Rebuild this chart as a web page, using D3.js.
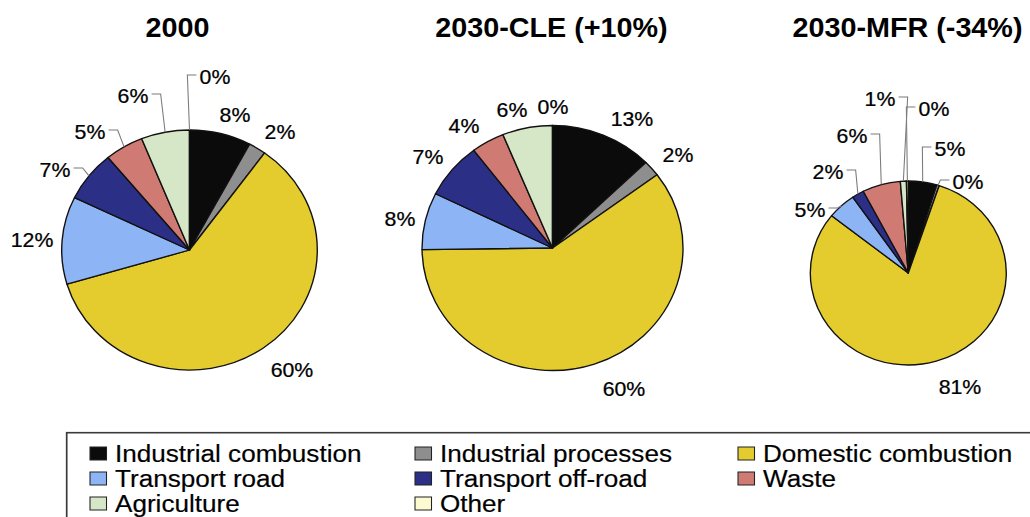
<!DOCTYPE html>
<html>
<head>
<meta charset="utf-8">
<script src="https://cdn.jsdelivr.net/npm/d3@7"></script>
<style>
  html, body { margin: 0; padding: 0; background: #ffffff; }
  svg { display: block; }
  text { font-family: "Liberation Sans", Arial, Helvetica, sans-serif; fill: #000; }
</style>
</head>
<body>
<svg id="chart" width="1030" height="517"></svg>
<script>
// ---------------- data ----------------
const categories = [
  "Industrial combustion", "Industrial processes", "Domestic combustion",
  "Transport road", "Transport off-road", "Waste", "Agriculture", "Other"
];
const titles = ["2000", "2030-CLE (+10%)", "2030-MFR (-34%)"];
const values2000 = [7.8, 2.2, 60.4, 11.8, 6.8, 4.9, 6.1, 0.0];
const valuesCLE  = [12.7, 2.1, 60.0, 7.5, 7.4, 4.1, 6.2, 0.0];
const valuesMFR  = [4.7, 0.4, 80.6, 4.7, 2.0, 6.3, 1.0, 0.3];
const seriesValues = [values2000, valuesCLE, valuesMFR];

// ---------------- style / layout ----------------
const colors = ["#0b0b0b", "#8e8e8e", "#e4cb2e", "#8db4f4", "#2c2f86", "#cf7a72", "#d6e7c7", "#fbfad0"];
const S = 1.065; // horizontal stretch of the whole figure
// layout in screen pixels (converted to unstretched space below)
const pieLayout = [
  { cx: 189.5, cy: 250, r: 120, titleX: 177.5 },
  { cx: 552.5, cy: 248, r: 122.5, titleX: 551.5 },
  { cx: 908.3, cy: 273, r: 92, titleX: 907.5 }
];
// label centres relative to pie centre (screen px) and whether a leader line is drawn
const labelLayout = [
  [[45.5,-135,0],[90.5,-118,0],[102.5,120,0],[-157.5,-10,0],[-134.5,-80,1],[-99.5,-118,1],[-56.5,-154,1],[25.5,-173,1]],
  [[79.5,-129,0],[125.5,-93,0],[71.5,141,0],[-152.5,-29,0],[-124.5,-91,0],[-88.5,-122,0],[-40.5,-138,0],[0.5,-141,0]],
  [[41.7,-124,1],[59.7,-91,1],[51.7,114,0],[-98.3,-63,1],[-80.3,-101,1],[-56.3,-137,1],[-28.3,-174,1],[25.7,-164,1]]
];

const svg = d3.select("#chart");
const root = svg.append("g").attr("transform", `scale(${S},1)`);

const pie = d3.pie().sort(null).value(d => d).startAngle(0).endAngle(2 * Math.PI);
const fmt = v => Math.round(v) + "%";

seriesValues.forEach((vals, i) => {
  const L = pieLayout[i];
  const cx = L.cx / S, cy = L.cy;
  const arcs = pie(vals);
  const arc = d3.arc().innerRadius(0).outerRadius(L.r);

  root.append("text")
    .attr("x", L.titleX / S).attr("y", 37)
    .attr("text-anchor", "middle")
    .style("font-size", "27px").style("font-weight", "bold")
    .text(titles[i]);

  const g = root.append("g").attr("transform", `translate(${cx},${cy})`);
  g.selectAll("path.slice").data(arcs).join("path")
    .attr("class", "slice")
    .attr("d", arc)
    .attr("fill", (d, k) => colors[k])
    .attr("stroke", "#111")
    .attr("stroke-width", 1.3)
    .attr("stroke-linejoin", "round");

  // labels
  arcs.forEach((d, k) => {
    const [dxs, dy, leader] = labelLayout[i][k];
    const lx = dxs / S, ly = dy;
    const t = g.append("text")
      .attr("x", lx).attr("y", ly)
      .attr("dy", "0.36em")
      .attr("text-anchor", "middle")
      .style("font-size", "20px")
      .style("stroke", "#000").style("stroke-width", 0.25)
      .text(fmt(vals[k]));
    if (leader) {
      const w = t.node().getComputedTextLength();
      const a = (d.startAngle + d.endAngle) / 2;
      const ax = L.r * Math.sin(a), ay = -L.r * Math.cos(a);
      const right = lx > ax;
      const sx = right ? lx - w / 2 - 3 : lx + w / 2 + 3;
      const ex = right ? sx - 8.5 : sx + 8.5;
      const yy = ly - 2;
      g.insert("path", "text")
        .attr("d", d3.line()([[sx, yy], [ex, yy], [ax, ay]]))
        .attr("fill", "none")
        .attr("stroke", "#7a7a7a")
        .attr("stroke-width", 1);
    }
  });
});

// ---------------- legend ----------------
const legend = root.append("g");
legend.append("rect")
  .attr("x", 66.7 / S).attr("y", 432.7)
  .attr("width", 1200).attr("height", 300)
  .attr("fill", "none").attr("stroke", "#3a3a3a").attr("stroke-width", 1.6);

const colX = [90 / S, 415 / S, 738 / S];
const rowY = [462, 487, 512];
categories.forEach((c, k) => {
  const col = k % 3, row = Math.floor(k / 3);
  const x = colX[col], y = rowY[row];
  legend.append("rect")
    .attr("x", x).attr("y", y - 15)
    .attr("width", 15.5).attr("height", 13)
    .attr("fill", colors[k]).attr("stroke", "#222").attr("stroke-width", 1);
  legend.append("text")
    .attr("x", x + 23.5).attr("y", y)
    .style("font-size", "24.5px")
    .style("stroke", "#000").style("stroke-width", 0.2)
    .text(c);
});
</script>
</body>
</html>
